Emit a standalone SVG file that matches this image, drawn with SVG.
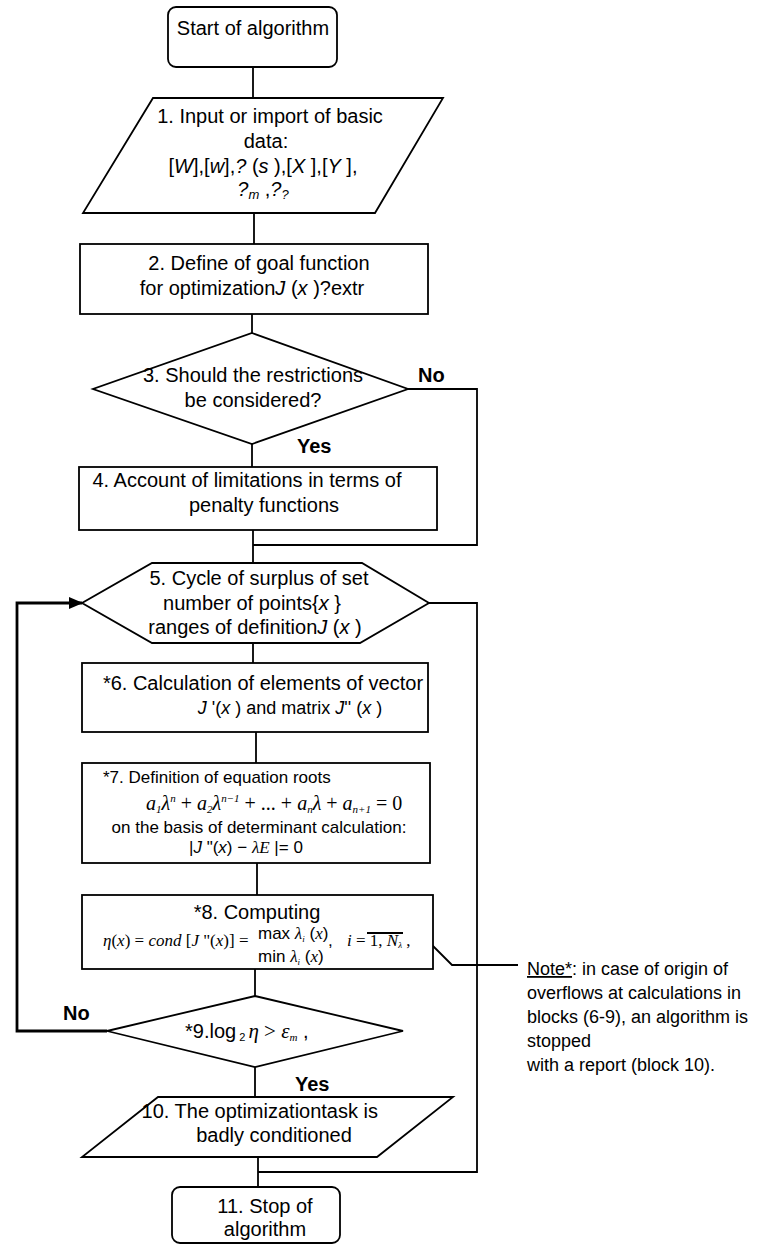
<svg xmlns="http://www.w3.org/2000/svg" width="769" height="1245" viewBox="0 0 769 1245">
<style>
.s{fill:#fff;stroke:#000;stroke-width:1.8}
.c{fill:none;stroke:#000;stroke-width:1.8}
.L{fill:none;stroke:#000;stroke-width:2.8}
text{font-family:"Liberation Sans",Arial,sans-serif;font-size:20px;fill:#000}
.mid{text-anchor:middle}
.end{text-anchor:end}
.i{font-style:italic}
.m{font-family:"Liberation Serif","Times New Roman",serif;font-style:italic}
.u{font-family:"Liberation Serif","Times New Roman",serif;font-style:normal}
.b{font-weight:bold}
.sm{font-size:17px}
.n{font-size:18px}
</style>
<defs>
<marker id="ah" markerUnits="userSpaceOnUse" markerWidth="14" markerHeight="12" refX="13" refY="6" orient="auto">
<path d="M0,0 L14,6 L0,12 Z" fill="#000"/>
</marker>
</defs>
<rect width="769" height="1245" fill="#fff"/>

<g id="connectors">
<path class="c" d="M253,67 V98"/>
<path class="c" d="M254,213 V244"/>
<path class="c" d="M252,314 V333"/>
<path class="c" d="M252,444 V467"/>
<path class="c" d="M408,389 H477 V545 H253"/>
<path class="c" d="M253,530 V563"/>
<path class="c" d="M429,603 H477 V1172 H258"/>
<path class="c" d="M253,643 V663"/>
<path class="c" d="M256,732 V763"/>
<path class="c" d="M257,863 V895"/>
<path class="c" d="M255,969 V996"/>
<path class="c" d="M255,1067 V1097"/>
<path class="c" d="M258,1157 V1187"/>
<path class="L" d="M107,1031 H17 V603 H82" marker-end="url(#ah)"/>
<circle cx="396" cy="909" r="3.5" fill="#000"/>
<path class="c" d="M396,909 L452,965 H518"/>
<text class="b" x="418" y="382">No</text>
<text class="b" x="297" y="453">Yes</text>
<text class="b" x="63" y="1020">No</text>
<text class="b" x="295" y="1091">Yes</text>
</g>

<g id="start">
<rect class="s" x="168" y="7" width="169" height="60" rx="8"/>
<text class="mid" x="253" y="35">Start of algorithm</text>
</g>

<g id="block1">
<path class="s" d="M153,98 H443 L375,213 H83 Z"/>
<text class="mid" x="270" y="123">1. Input or import of basic</text>
<text class="mid" x="266" y="148">data:</text>
<text class="mid" x="263" y="173">[<tspan class="i">W</tspan>],[<tspan class="i">w</tspan>],<tspan class="i">?</tspan> (<tspan class="i">s</tspan> ),[<tspan class="i">X</tspan> ],[<tspan class="i">Y</tspan> ],</text>
<text class="mid" x="263" y="196"><tspan class="i">?</tspan><tspan class="i" font-size="13" dy="3">m</tspan><tspan dy="-3"> ,</tspan><tspan class="i">?</tspan><tspan class="i" font-size="13" dy="3">?</tspan></text>
</g>

<g id="block2">
<rect class="s" x="80" y="244" width="348" height="70"/>
<text class="mid" x="259" y="270">2. Define of goal function</text>
<text class="mid" x="252" y="295">for optimization<tspan class="i">J</tspan> (<tspan class="i">x</tspan> )?extr</text>
</g>

<g id="block3">
<path class="s" d="M252,333 L408,389 L252,444 L93,389 Z"/>
<text class="mid" x="253" y="382">3.  Should the restrictions</text>
<text class="mid" x="253" y="407">be considered?</text>
</g>

<g id="block4">
<rect class="s" x="79" y="467" width="358" height="63"/>
<text class="mid" x="247" y="487">4. Account of limitations in terms of</text>
<text class="mid" x="264" y="512">penalty functions</text>
</g>

<g id="block5">
<path class="s" d="M152,563 H362 L429,603 L360,643 H152 L82,603 Z"/>
<text class="mid" x="259" y="585">5. Cycle of surplus of set</text>
<text class="mid" x="252" y="610">number of points{<tspan class="i">x</tspan> }</text>
<text class="mid" x="255" y="634">ranges of definition<tspan class="i">J</tspan> (<tspan class="i">x</tspan> )</text>
</g>

<g id="block6">
<rect class="s" x="82" y="663" width="346" height="69"/>
<text class="mid" x="263" y="690">*6. Calculation of elements of vector</text>
<text class="mid n" x="290" y="714"><tspan class="i">J</tspan> '(<tspan class="i">x</tspan> ) and matrix <tspan class="i">J</tspan>'' (<tspan class="i">x</tspan> )</text>
</g>

<g id="block7">
<rect class="s" x="82" y="763" width="348" height="100"/>
<text class="sm" x="103" y="783">*7. Definition of equation roots</text>
<text class="m" font-size="19" x="146" y="810">a<tspan font-size="11" dy="3">1</tspan><tspan dy="-3">λ</tspan><tspan font-size="11" dy="-8">n</tspan><tspan class="u" dy="8"> + </tspan>a<tspan font-size="11" dy="3">2</tspan><tspan dy="-3">λ</tspan><tspan font-size="11" dy="-8">n−1</tspan><tspan class="u" dy="8"> + ... + </tspan>a<tspan font-size="11" dy="3">n</tspan><tspan dy="-3">λ</tspan><tspan class="u"> + </tspan>a<tspan font-size="11" dy="3">n+1</tspan><tspan class="u" dy="-3"> = 0</tspan></text>
<text class="mid sm" x="259" y="833">on the basis of determinant calculation:</text>
<text class="sm" x="189" y="853">|<tspan class="i">J</tspan> "(<tspan class="i">x</tspan>) − <tspan class="m">λE</tspan> |= 0</text>
</g>

<g id="block8">
<rect class="s" x="82" y="895" width="351" height="74"/>
<text class="mid" x="257" y="919">*8. Computing</text>
<text class="m sm" x="103" y="946">η<tspan class="u">(</tspan>x<tspan class="u">) = </tspan>cond<tspan class="u"> [</tspan>J<tspan class="u"> "(</tspan>x<tspan class="u">)] =</tspan></text>
<text class="sm" x="258" y="939">max <tspan class="m">λ</tspan><tspan class="m" font-size="9" dy="3">i</tspan><tspan dy="-3"> (</tspan><tspan class="m">x</tspan>)</text>
<text class="sm" x="258" y="962">min <tspan class="m">λ</tspan><tspan class="m" font-size="9" dy="3">i</tspan><tspan dy="-3"> (</tspan><tspan class="m">x</tspan>)</text>
<text class="sm" x="328" y="946">,</text>
<text class="m sm" x="347" y="946">i<tspan class="u"> = 1, </tspan>N<tspan font-size="9" dy="2">λ</tspan><tspan class="u" dy="-2"> ,</tspan></text>
<path class="c" d="M367,933 H403" stroke-width="1"/>
</g>

<g id="block9">
<path class="s" d="M255,996 L403,1031 L255,1067 L107,1031 Z"/>
<text x="185" y="1038">*9.log<tspan font-size="11" dy="3"> 2 </tspan><tspan class="m" font-size="21" dy="-3">η</tspan><tspan class="u" font-size="21"> &gt; </tspan><tspan class="m" font-size="21">ε</tspan><tspan class="m" font-size="11" dy="3">m</tspan><tspan dy="-3"> ,</tspan></text>
</g>

<g id="note">
<text class="n" x="527" y="975"><tspan text-decoration="underline">Note*</tspan>: in case of origin of</text>
<text class="n" x="527" y="999">overflows at calculations in</text>
<text class="n" x="527" y="1023">blocks (6-9), an algorithm is</text>
<text class="n" x="527" y="1047">stopped</text>
<text class="n" x="527" y="1071">with a report (block 10).</text>
</g>

<g id="block10">
<path class="s" d="M158,1097 H453 L377,1157 H82 Z"/>
<text class="end" x="378" y="1118">10. The optimizationtask is</text>
<text class="mid" x="274" y="1142">badly conditioned</text>
</g>

<g id="block11">
<rect class="s" x="172" y="1187" width="168" height="56" rx="8"/>
<text class="mid" x="265" y="1213">11. Stop of</text>
<text class="mid" x="265" y="1236">algorithm</text>
</g>
</svg>
